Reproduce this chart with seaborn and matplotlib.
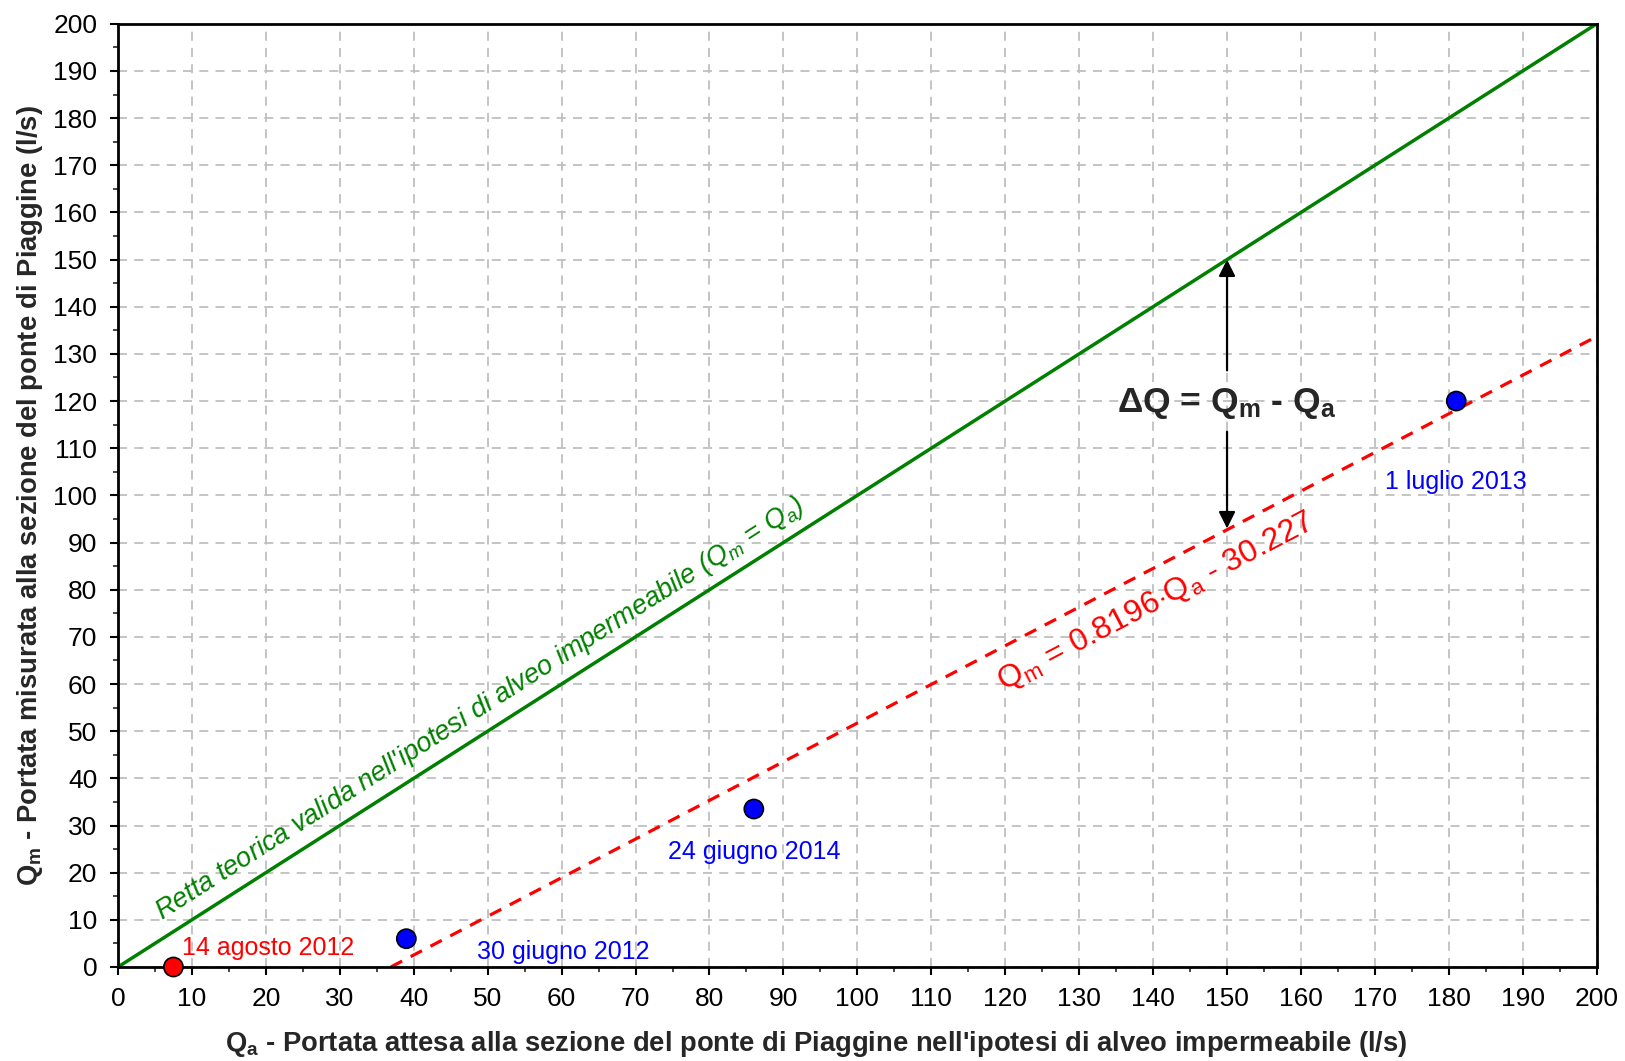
import matplotlib
matplotlib.use('Agg')
import matplotlib.pyplot as plt
import seaborn as sns
import pandas as pd

# observed events
event_labels = ['14 agosto 2012', '30 giugno 2012', '24 giugno 2014', '1 luglio 2013']
qa_obs = [7.5, 39, 86, 181]
qm_obs = [0, 6, 33.5, 120]
event_kind = ['rosso', 'blu', 'blu', 'blu']

# theoretical line (Qm = Qa) and fitted line
theory_x = [0, 200]
theory_y = [0, 200]
fit_x = [36.9, 200]
fit_y = [0, 133.7]

sns.set_style('ticks')
plt.rcParams['font.family'] = ['Liberation Sans', 'DejaVu Sans']
plt.rcParams['mathtext.fontset'] = 'custom'
plt.rcParams['mathtext.rm'] = 'Liberation Sans'
plt.rcParams['mathtext.it'] = 'Liberation Sans:italic'
plt.rcParams['mathtext.bf'] = 'Liberation Sans:bold'

df = pd.DataFrame({'qa': qa_obs, 'qm': qm_obs, 'kind': event_kind, 'label': event_labels})

fig = plt.figure(figsize=(16.25, 10.61), dpi=100)
ax = fig.add_axes([0.0726, 0.0886, 0.910, 0.889])

ax.grid(True, which='major', color='#bfbfbf', linestyle=(0, (5, 4)), linewidth=1.3)
ax.set_axisbelow(True)

sns.lineplot(x=theory_x, y=theory_y, ax=ax, color='#008000', linewidth=2.5)
sns.lineplot(x=fit_x, y=fit_y, ax=ax, color='red', linewidth=2.3, linestyle=(0, (4, 3)))
sns.scatterplot(data=df, x='qa', y='qm', hue='kind', palette={'rosso': 'red', 'blu': 'blue'},
                s=190, edgecolor='black', linewidth=1.2, legend=False, ax=ax, zorder=5, clip_on=False)

ax.set_xlim(0, 200)
ax.set_ylim(0, 200)
ax.set_xticks(range(0, 201, 10))
ax.set_yticks(range(0, 201, 10))
ax.set_xticks(range(5, 200, 10), minor=True)
ax.set_yticks(range(5, 200, 10), minor=True)
ax.tick_params(which='major', direction='out', length=6, width=1.5, labelsize=19, colors='black')
ax.tick_params(which='minor', direction='out', length=3.5, width=1.2)
ax.tick_params(axis='x', which='major', pad=8.5)
ax.tick_params(axis='y', which='major', pad=9)
for sp in ax.spines.values():
    sp.set_linewidth(2)
    sp.set_color('black')

ax.set_xlabel(r"$\mathbf{Q_a}$ - Portata attesa alla sezione del ponte di Piaggine nell'ipotesi di alveo impermeabile (l/s)",
              fontsize=19.7, fontweight='bold')
ax.xaxis.set_label_coords(0.472, -0.066, transform=ax.transAxes)
ax.set_ylabel(r'$\mathbf{Q_m}$ - Portata misurata alla sezione del ponte di Piaggine (l/s)',
              fontsize=19.7, fontweight='bold', labelpad=6)

# event labels
ax.text(8.7, 2.6, event_labels[0], color='red', fontsize=18)
ax.text(48.5, 1.6, event_labels[1], color='blue', fontsize=18)
ax.text(86, 23.0, event_labels[2], color='blue', fontsize=18, ha='center')
ax.text(181, 101.3, event_labels[3], color='blue', fontsize=18, ha='center')

# rotated line labels
ax.text(6.5, 8.5, r"Retta teorica valida nell'ipotesi di alveo impermeabile ($Q_m$ = $Q_a$)",
        color='#008000', fontsize=19.5, style='italic', rotation=45,
        rotation_mode='anchor', transform_rotates_text=True, ha='left', va='bottom')
ax.text(120.2, 57.0, r'$\mathregular{Q_m}$ = 0.8196$\cdot$$\mathregular{Q_a}$ - 30.227',
        color='red', fontsize=23, rotation=39.34,
        rotation_mode='anchor', transform_rotates_text=True, ha='left', va='bottom')

# delta Q annotation
ax.text(150, 119.5, 'ΔQ = ' + r'$\mathbf{Q_m}$ - $\mathbf{Q_a}$', fontsize=25.5, fontweight='bold',
        ha='center', va='center')
ax.annotate('', xy=(150, 150), xytext=(150, 126.5),
            arrowprops=dict(arrowstyle='-|>', color='black', lw=1.6, mutation_scale=25, shrinkA=0, shrinkB=0))
ax.annotate('', xy=(150, 93), xytext=(150, 113.5),
            arrowprops=dict(arrowstyle='-|>', color='black', lw=1.6, mutation_scale=25, shrinkA=0, shrinkB=0))

fig.savefig('out.png', dpi=100)
